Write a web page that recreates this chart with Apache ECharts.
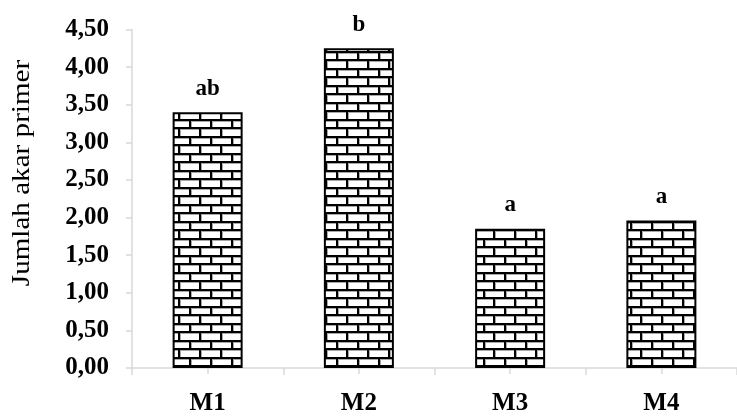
<!DOCTYPE html>
<html>
<head>
<meta charset="utf-8">
<script src="https://cdn.jsdelivr.net/npm/echarts@6/dist/echarts.min.js"></script>
<style>
html,body{margin:0;padding:0;background:#fff;}
#chart{width:737px;height:416px;}
</style>
</head>
<body>
<div id="chart"></div>
<script>
const categories = ['M1', 'M2', 'M3', 'M4'];
const values = [3.40, 4.25, 1.85, 1.96];
const letters = ['ab', 'b', 'a', 'a'];
const yTicks = [0, 0.5, 1, 1.5, 2, 2.5, 3, 3.5, 4, 4.5];
const yTitle = 'Jumlah akar primer';

function brickPattern() {
  const c = document.createElement('canvas');
  c.width = 21; c.height = 17;
  const g = c.getContext('2d');
  g.fillStyle = '#fff';
  g.fillRect(0, 0, 21, 17);
  g.fillStyle = '#a8a8a8';
  g.fillRect(0, 2, 21, 1);
  g.fillRect(0, 10, 21, 1);
  g.fillRect(2, 2, 1, 6);
  g.fillRect(12, 10, 1, 7);
  g.fillStyle = '#000';
  g.fillRect(0, 0, 21, 2);
  g.fillRect(0, 8, 21, 2);
  g.fillRect(0, 2, 2, 6);
  g.fillRect(10, 10, 2, 7);
  return c;
}

const font = 'Liberation Serif';
const chart = echarts.init(document.getElementById('chart'));
chart.setOption({
  animation: false,
  backgroundColor: '#fff',
  grid: { left: 132, width: 613, top: 29.5, bottom: 43.3, containLabel: false },
  xAxis: [{
    type: 'category',
    data: categories,
    position: 'bottom',
    axisLine: { lineStyle: { color: '#d9d9d9', width: 1.5 } },
    axisTick: { show: true, length: 7, lineStyle: { color: '#d9d9d9', width: 1.5 } },
    axisLabel: { color: '#000', fontFamily: font, fontWeight: 'bold', fontSize: 25, margin: 23 }
  }, {
    type: 'category',
    data: categories,
    position: 'bottom',
    axisLine: { show: false },
    axisTick: { show: true, alignWithLabel: true, length: 6, lineStyle: { color: '#d9d9d9', width: 1.5 } },
    axisLabel: { show: false }
  }],
  yAxis: {
    type: 'value',
    min: 0, max: 4.5, interval: 0.5,
    axisLine: { show: true, lineStyle: { color: '#d9d9d9', width: 1.5 } },
    axisTick: { show: true, length: 6, lineStyle: { color: '#d9d9d9', width: 1.5 } },
    splitLine: { show: false },
    axisLabel: {
      color: '#000', fontFamily: font, fontWeight: 'bold', fontSize: 25, margin: 23,
      formatter: v => v.toFixed(2).replace('.', ',')
    }
  },
  graphic: [{
    type: 'text',
    x: 22, y: 173,
    rotation: Math.PI / 2,
    scaleX: 1.12,
    style: {
      text: yTitle,
      fontFamily: font, fontSize: 26, fill: '#000',
      align: 'center', verticalAlign: 'middle'
    }
  }],
  series: [{
    type: 'bar',
    xAxisIndex: 0,
    data: values,
    barWidth: 70,
    itemStyle: {
      color: { image: brickPattern(), repeat: 'repeat' },
      borderColor: '#000',
      borderWidth: 2
    },
    label: {
      show: true,
      position: 'top',
      distance: 12,
      color: '#000',
      fontFamily: font,
      fontWeight: 'bold',
      fontSize: 23,
      formatter: p => letters[p.dataIndex]
    }
  }]
});
</script>
</body>
</html>
